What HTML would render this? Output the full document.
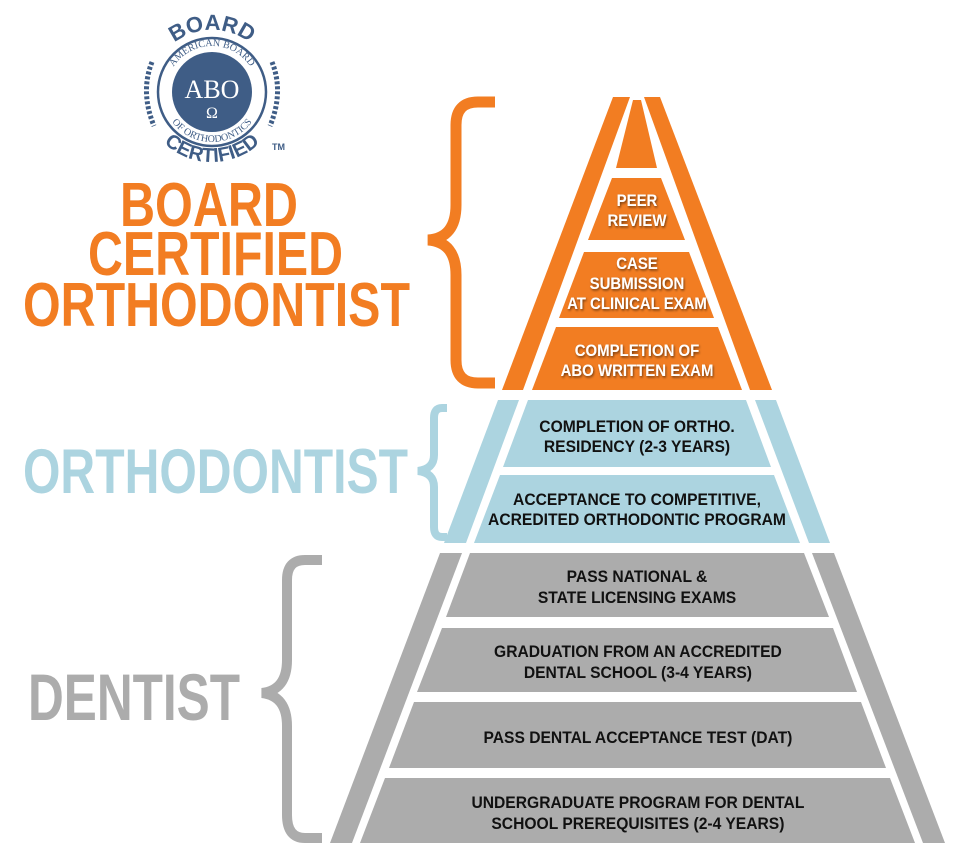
<!DOCTYPE html>
<html><head><meta charset="utf-8"><style>
html,body{margin:0;padding:0;background:#fff;width:980px;height:866px;overflow:hidden}
svg{display:block}
.bt{font-family:"Liberation Sans Narrow","Liberation Sans",sans-serif;font-weight:bold}
</style></head><body>
<svg width="980" height="866" viewBox="0 0 980 866" xmlns="http://www.w3.org/2000/svg">
<defs>
<filter id="sh" x="-10%" y="-10%" width="120%" height="140%"><feDropShadow dx="1" dy="1.5" stdDeviation="1.2" flood-color="#000" flood-opacity="0.55"/></filter>
<path id="arcTop" d="M150,92 A62,62 0 0 1 274,92"/>
<path id="arcBot" d="M142,92 A70,70 0 0 0 282,92"/>
<path id="arcIn" d="M166,92 A46,46 0 0 1 258,92"/>
<path id="arcIn2" d="M162,92 A50,50 0 0 0 262,92"/>
</defs>
<!-- Logo -->
<g>
<circle cx="212" cy="92" r="54" fill="none" stroke="#3f5d86" stroke-width="2.5"/>
<circle cx="212" cy="92" r="40" fill="#3f5d86"/>
<text class="bt" font-size="22" fill="#3f5d86" text-anchor="middle"><textPath href="#arcTop" startOffset="50%">BOARD</textPath></text>
<text class="bt" font-size="20" fill="#3f5d86" text-anchor="middle"><textPath href="#arcBot" startOffset="50%">CERTIFIED</textPath></text>
<text font-family="Liberation Serif,serif" font-size="10" fill="#3f5d86" text-anchor="middle"><textPath href="#arcIn" startOffset="50%">AMERICAN BOARD</textPath></text>
<text font-family="Liberation Serif,serif" font-size="10" fill="#3f5d86" text-anchor="middle"><textPath href="#arcIn2" startOffset="50%">OF ORTHODONTICS</textPath></text>
<text x="212" y="98" text-anchor="middle" font-family="Liberation Serif,serif" font-size="26" fill="#fff">ABO</text>
<text x="212" y="118" text-anchor="middle" font-family="Liberation Serif,serif" font-size="16" fill="#fff">Ω</text>
<text x="272" y="150" class="bt" font-size="9" fill="#3f5d86">TM</text>
<path d="M152,62 Q140,92 154,126 M272,62 Q284,92 270,126" stroke="#3f5d86" stroke-width="5" fill="none" stroke-dasharray="3 2"/>
</g>
<!-- Left labels -->
<g class="bt" fill="#f27d22">
<text x="120" y="226" font-size="62" textLength="178" lengthAdjust="spacingAndGlyphs">BOARD</text>
<text x="88" y="275" font-size="62" textLength="255" lengthAdjust="spacingAndGlyphs">CERTIFIED</text>
<text x="23" y="326" font-size="62" textLength="387" lengthAdjust="spacingAndGlyphs">ORTHODONTIST</text>
</g>
<text class="bt" x="23" y="493" font-size="63" fill="#acd4e0" textLength="385" lengthAdjust="spacingAndGlyphs">ORTHODONTIST</text>
<text class="bt" x="28" y="720" font-size="66" fill="#acacac" textLength="212" lengthAdjust="spacingAndGlyphs">DENTIST</text>
<!-- Braces -->
<path d="M495,102 H478 Q456,102 456,125 V205 Q456,238 428,240 Q456,242 456,275 V360 Q456,383 478,383 H495" fill="none" stroke="#f27d22" stroke-width="11"/>
<path d="M447,408 H442 Q434,408 434,418 V455 Q434,469 418,471 Q434,473 434,487 V527 Q434,537 442,537 H447" fill="none" stroke="#acd4e0" stroke-width="8"/>
<path d="M322,560 H305 Q287,560 287,580 V660 Q287,690 262,693 Q287,696 287,726 V815 Q287,838 305,838 H322" fill="none" stroke="#acacac" stroke-width="10"/>
<!-- Orange -->
<g fill="#f27d22">
<polygon points="613,97 630,97 523,390 502,390"/>
<polygon points="644,97 660,97 772,390 750,390"/>
<polygon points="633,100 641,100 657,168 616,168"/>
<polygon points="612,178 661,178 685,240 588,240"/>
<polygon points="584,252 689,252 714,318 559,318"/>
<polygon points="556,327 718,327 742,390 532,390"/>
</g>
<!-- Blue -->
<g fill="#acd4e0">
<polygon points="498,400 519,400 466,543 444,543"/>
<polygon points="755,400 776,400 830,543 809,543"/>
<polygon points="528,400 746,400 771,467 503,467"/>
<polygon points="500,475 774,475 800,543 474,543"/>
</g>
<!-- Gray -->
<g fill="#acacac">
<polygon points="440,553 462,553 352,843 330,843"/>
<polygon points="812,553 834,553 945,843 923,843"/>
<polygon points="470,553 804,553 829,617 446,617"/>
<polygon points="442,628 833,628 857,692 417,692"/>
<polygon points="414,702 861,702 886,768 389,768"/>
<polygon points="385,778 890,778 915,843 360,843"/>
</g>
<!-- Orange texts -->
<g transform="translate(637,0) scale(0.88,1) translate(-637,0)">
<g class="bt" fill="#fff" font-size="17" text-anchor="middle" filter="url(#sh)">
<text x="637" y="206">PEER</text>
<text x="637" y="226">REVIEW</text>
<text x="637" y="269">CASE</text>
<text x="637" y="289">SUBMISSION</text>
<text x="637" y="309">AT CLINICAL EXAM</text>
<text x="637" y="356">COMPLETION OF</text>
<text x="637" y="376">ABO WRITTEN EXAM</text>
</g>
</g>
<g transform="translate(637,0) scale(0.92,1) translate(-637,0)">
<g class="bt" fill="#111" font-size="17" text-anchor="middle">
<text x="637" y="432">COMPLETION OF  ORTHO.</text>
<text x="637" y="452">RESIDENCY (2-3 YEARS)</text>
<text x="637" y="505">ACCEPTANCE TO COMPETITIVE,</text>
<text x="637" y="525">ACREDITED ORTHODONTIC PROGRAM</text>
<text x="637" y="582">PASS NATIONAL &amp;</text>
<text x="637" y="603">STATE LICENSING EXAMS</text>
<text x="638" y="657">GRADUATION FROM AN ACCREDITED</text>
<text x="638" y="678">DENTAL SCHOOL (3-4 YEARS)</text>
<text x="638" y="743">PASS DENTAL ACCEPTANCE TEST (DAT)</text>
<text x="638" y="808">UNDERGRADUATE PROGRAM FOR DENTAL</text>
<text x="638" y="829">SCHOOL PREREQUISITES (2-4 YEARS)</text>
</g>
</g>
</svg>
</body></html>
